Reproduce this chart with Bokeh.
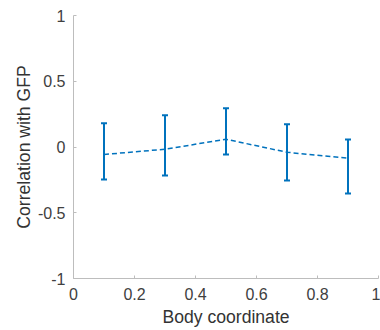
from bokeh.plotting import figure
from bokeh.models import FixedTicker, ColumnDataSource, Whisker, Range1d
from bokeh.embed import file_html
from bokeh.resources import INLINE

# Correlation of each body segment with GFP, with confidence bounds
body_coord = [0.1, 0.3, 0.5, 0.7, 0.9]
corr_mean = [-0.057, -0.017, 0.059, -0.040, -0.085]
corr_lower = [-0.247, -0.217, -0.057, -0.255, -0.354]
corr_upper = [0.180, 0.242, 0.295, 0.173, 0.057]

x_ticks = [0, 0.2, 0.4, 0.6, 0.8, 1]
x_tick_labels = ["0", "0.2", "0.4", "0.6", "0.8", "1"]
y_ticks = [-1, -0.5, 0, 0.5, 1]
y_tick_labels = ["-1", "-0.5", "0", "0.5", "1"]

BLUE = "#0072BD"
AXIS_GRAY = "#bdbdbd"
TEXT_GRAY = "#404040"
FONT = "Liberation Sans"

p = figure(width=380, height=330, output_backend="svg", toolbar_location=None,
           x_range=Range1d(0, 1), y_range=Range1d(-1, 1),
           min_border_left=73, min_border_right=2, min_border_top=15,
           min_border_bottom=52)
p.outline_line_color = None
p.grid.visible = False
p.background_fill_color = "white"
p.border_fill_color = "white"

src = ColumnDataSource(dict(x=body_coord, y=corr_mean,
                            lo=corr_lower, hi=corr_upper))

p.line("x", "y", source=src, line_color=BLUE, line_width=1.5,
       line_dash="5 3")

w = Whisker(base="x", lower="lo", upper="hi", source=src,
            line_color=BLUE, line_width=2)
w.upper_head.size = 6
w.lower_head.size = 6
w.upper_head.line_color = BLUE
w.lower_head.line_color = BLUE
w.upper_head.line_width = 2
w.lower_head.line_width = 2
p.add_layout(w)

p.xaxis.ticker = FixedTicker(ticks=x_ticks)
p.xaxis.major_label_overrides = dict(zip(x_ticks, x_tick_labels))
p.yaxis.ticker = FixedTicker(ticks=y_ticks)
p.yaxis.major_label_overrides = dict(zip(y_ticks, y_tick_labels))

p.xaxis.axis_label = "Body coordinate"
p.yaxis.axis_label = "Correlation with GFP"

for ax in (p.xaxis, p.yaxis):
    ax.axis_line_color = AXIS_GRAY
    ax.axis_line_width = 1
    ax.major_tick_line_color = AXIS_GRAY
    ax.major_tick_in = 3
    ax.major_tick_out = 0
    ax.minor_tick_line_color = None
    ax.major_label_text_font = FONT
    ax.major_label_text_font_size = "16px"
    ax.major_label_text_color = TEXT_GRAY
    ax.axis_label_text_font = FONT
    ax.axis_label_text_font_size = "17.6px"
    ax.axis_label_text_font_style = "normal"
    ax.axis_label_text_color = "#333333"

p.xaxis.major_label_standoff = 9
p.xaxis.axis_label_standoff = 4
p.yaxis.major_label_standoff = 8
p.yaxis.axis_label_standoff = 1

open("out.html", "w").write(file_html(p, INLINE))
